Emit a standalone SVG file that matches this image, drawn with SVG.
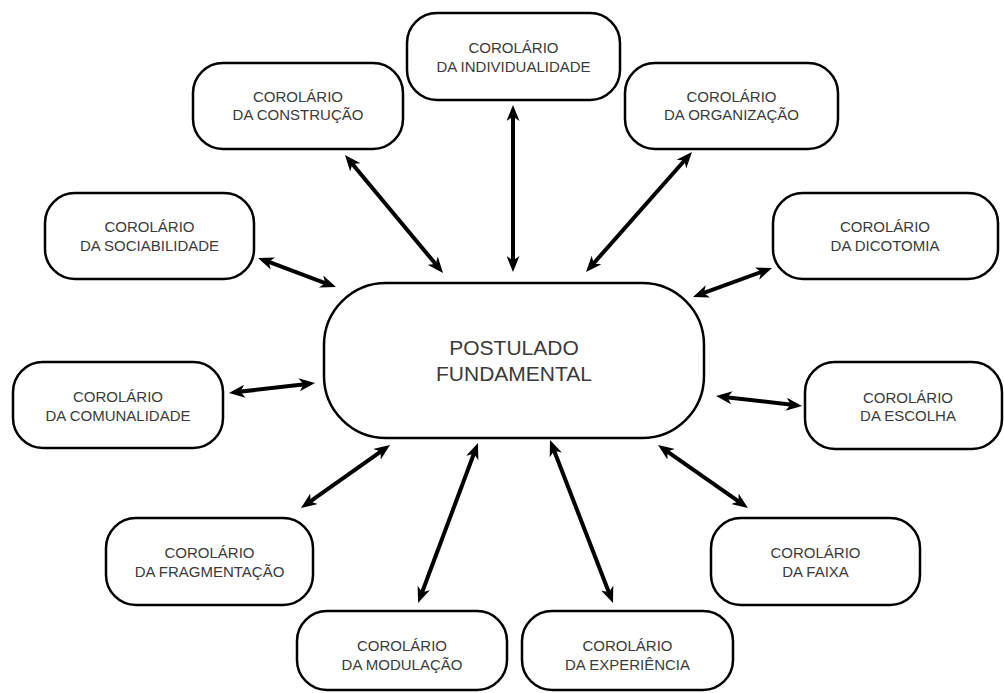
<svg xmlns="http://www.w3.org/2000/svg" width="1004" height="693" viewBox="0 0 1004 693">
<style>
.box{fill:#fff;stroke:#000;stroke-width:2.5}
.t{font-family:"Liberation Sans",Arial,sans-serif;font-size:15px;fill:#3a3a3a;text-anchor:middle}
.tc{font-family:"Liberation Sans",Arial,sans-serif;font-size:21px;fill:#3a3a3a;text-anchor:middle}
.c{stroke:#000;stroke-width:4;fill:none;marker-start:url(#ah);marker-end:url(#ah)}
</style>
<defs>
<marker id="ah" markerUnits="userSpaceOnUse" markerWidth="16" markerHeight="13" refX="8" refY="6.5" orient="auto-start-reverse" viewBox="0 0 16 13">
<path d="M0,0 L16,6.5 L0,13 L4.5,6.5 Z" fill="#000"/>
</marker>
</defs>
<rect width="1004" height="693" fill="#fff"/>
<g id="connectors">
<line class="c" x1="350.1" y1="161.2" x2="437.9" y2="266.8"/>
<line class="c" x1="513" y1="113" x2="513" y2="264"/>
<line class="c" x1="686.7" y1="158" x2="591.3" y2="266"/>
<line class="c" x1="265.5" y1="260.7" x2="328.5" y2="284.3"/>
<line class="c" x1="764.5" y1="270.8" x2="700.5" y2="294.2"/>
<line class="c" x1="236.9" y1="392.1" x2="307.1" y2="383.9"/>
<line class="c" x1="723.9" y1="396.9" x2="794.1" y2="405.1"/>
<line class="c" x1="664.6" y1="449.6" x2="741.4" y2="503.4"/>
<line class="c" x1="383.5" y1="449.6" x2="307.5" y2="503.4"/>
<line class="c" x1="475.1" y1="450.5" x2="420.9" y2="595.5"/>
<line class="c" x1="552.9" y1="447.5" x2="610.1" y2="595.5"/>
</g>
<g id="postulado">
<rect class="box" x="324" y="283" width="380" height="155" rx="62"/>
<text class="tc" x="514" y="355">POSTULADO</text>
<text class="tc" x="514" y="381">FUNDAMENTAL</text>
</g>
<g id="construcao">
<rect class="box" x="193" y="63" width="210" height="86" rx="30"/>
<text class="t" x="298" y="102">COROLÁRIO</text>
<text class="t" x="298" y="120">DA CONSTRUÇÃO</text>
</g>
<g id="individualidade">
<rect class="box" x="407" y="13" width="213" height="87" rx="30"/>
<text class="t" x="513.5" y="53">COROLÁRIO</text>
<text class="t" x="513.5" y="72">DA INDIVIDUALIDADE</text>
</g>
<g id="organizacao">
<rect class="box" x="625" y="63" width="213" height="86" rx="30"/>
<text class="t" x="731.5" y="102">COROLÁRIO</text>
<text class="t" x="731.5" y="120">DA ORGANIZAÇÃO</text>
</g>
<g id="sociabilidade">
<rect class="box" x="45" y="193" width="209" height="86" rx="30"/>
<text class="t" x="149.5" y="232">COROLÁRIO</text>
<text class="t" x="149.5" y="251">DA SOCIABILIDADE</text>
</g>
<g id="dicotomia">
<rect class="box" x="773" y="193" width="225" height="86" rx="30"/>
<text class="t" x="885" y="232">COROLÁRIO</text>
<text class="t" x="885" y="251">DA DICOTOMIA</text>
</g>
<g id="comunalidade">
<rect class="box" x="13" y="362" width="210" height="86" rx="30"/>
<text class="t" x="118" y="402">COROLÁRIO</text>
<text class="t" x="118" y="421">DA COMUNALIDADE</text>
</g>
<g id="escolha">
<rect class="box" x="805" y="362" width="197" height="87" rx="30"/>
<text class="t" x="908" y="403">COROLÁRIO</text>
<text class="t" x="908" y="421">DA ESCOLHA</text>
</g>
<g id="fragmentacao">
<rect class="box" x="106" y="518" width="207" height="87" rx="30"/>
<text class="t" x="209.5" y="558">COROLÁRIO</text>
<text class="t" x="209.5" y="577">DA FRAGMENTAÇÃO</text>
</g>
<g id="faixa">
<rect class="box" x="711" y="518" width="209" height="87" rx="30"/>
<text class="t" x="815.5" y="558">COROLÁRIO</text>
<text class="t" x="815.5" y="577">DA FAIXA</text>
</g>
<g id="modulacao">
<rect class="box" x="297" y="611" width="210" height="79" rx="30"/>
<text class="t" x="402" y="651">COROLÁRIO</text>
<text class="t" x="402" y="670">DA MODULAÇÃO</text>
</g>
<g id="experiencia">
<rect class="box" x="522" y="611" width="211" height="79" rx="30"/>
<text class="t" x="627.5" y="651">COROLÁRIO</text>
<text class="t" x="627.5" y="670">DA EXPERIÊNCIA</text>
</g>
</svg>
